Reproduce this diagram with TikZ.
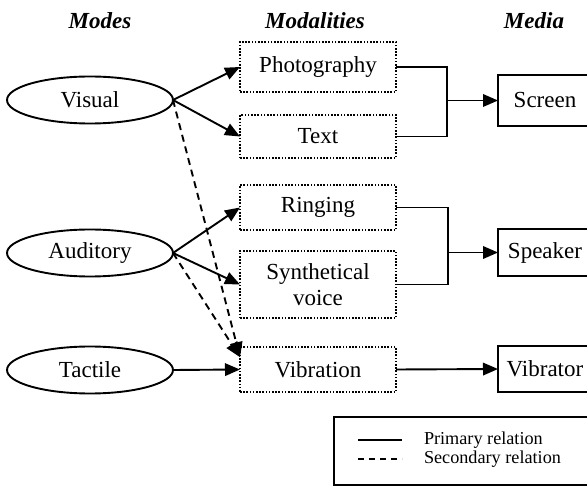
\documentclass[tikz,border=0pt]{standalone}
\usepackage{fontspec}
\setmainfont{Liberation Serif}
\usetikzlibrary{arrows.meta,shapes.geometric}
\begin{document}
\begin{tikzpicture}[x=1pt,y=-1pt,
  every node/.style={inner sep=0pt,outer sep=0pt},
  big/.style={font=\fontsize{23}{26.5}\selectfont},
  title/.style={big,font=\fontsize{23}{26.5}\selectfont\bfseries\itshape},
  mode/.style={big,draw,ellipse,line width=1.9pt,minimum width=166pt,minimum height=47pt},
  modality/.style={big,draw,line width=1.6pt,dash pattern=on 1.6pt off 1.6pt,minimum width=156pt,align=center},
  medium/.style={big,draw,line width=1.9pt,minimum width=94pt},
  prim/.style={line width=1.9pt},
  sec/.style={line width=1.9pt,dash pattern=on 7pt off 5pt},
  arr/.style={-{Triangle[length=15pt,width=12.5pt]}},
  legtext/.style={font=\fontsize{18.2}{20}\selectfont,anchor=west}
]
\clip (0,0) rectangle (587,486);
\fill[white] (0,0) rectangle (587,486);

\node[title] (t1) at (100,21) {Modes};
\node[title] (t2) at (315,21) {Modalities};
\node[title] (t3) at (534,21) {Media};

\node[mode] (vis) at (90,100) {Visual};
\node[mode] (aud) at (90,253) {Auditory};
\node[mode] (tac) at (90,370) {Tactile};

\node[modality,minimum height=50pt] (pho) at (318,67) {Photography};
\node[modality,minimum height=43pt] (txt) at (318,136.5) {Text};
\node[modality,minimum height=45pt] (rin) at (318,207.5) {Ringing};
\node[modality,minimum height=67pt] (syn) at (318,284.5) {Synthetical\\voice};
\node[modality,minimum height=45pt] (vib) at (318,369.5) {Vibration};

\node[medium,minimum height=51pt] (scr) at (545,100.5) {Screen};
\node[medium,minimum height=47pt] (spk) at (545,252.5) {Speaker};
\node[medium,minimum height=46pt] (vbr) at (545,369) {Vibrator};

\coordinate (j1) at (447,100.5);
\coordinate (j2) at (448,252.5);

\draw[prim,arr] (vis.east) -- (pho.west);
\draw[prim,arr] (vis.east) -- (txt.west);
\draw[prim,arr] (aud.east) -- (rin.west);
\draw[prim,arr] (aud.east) -- (syn.west);
\draw[prim,arr] (tac.east) -- (vib.west);
\draw[sec,arr] (vis.east) -- (vib.171);
\draw[sec,arr] (aud.east) -- (vib.171);

\draw[prim] (pho.east) -| (j1) |- (txt.east);
\draw[prim,arr] (j1) -- (scr.west);
\draw[prim] (rin.east) -| (j2) |- (syn.east);
\draw[prim,arr] (j2) -- (spk.west);
\draw[prim,arr] (vib.east) -- (vbr.west);

\node[draw,line width=1.8pt,minimum width=270pt,minimum height=68pt] (leg) at (469,451) {};
\coordinate (l1a) at (358,440);
\coordinate (l1b) at (402,440);
\coordinate (l2a) at (358,459);
\coordinate (l2b) at (402,459);
\draw[line width=1.4pt] (l1a) -- (l1b);
\draw[line width=1.4pt,dash pattern=on 6pt off 5pt] (l2a) -- (l2b);
\node[legtext] (lt1) at (424,440) {Primary relation};
\node[legtext] (lt2) at (424,459) {Secondary relation};
\end{tikzpicture}
\end{document}
